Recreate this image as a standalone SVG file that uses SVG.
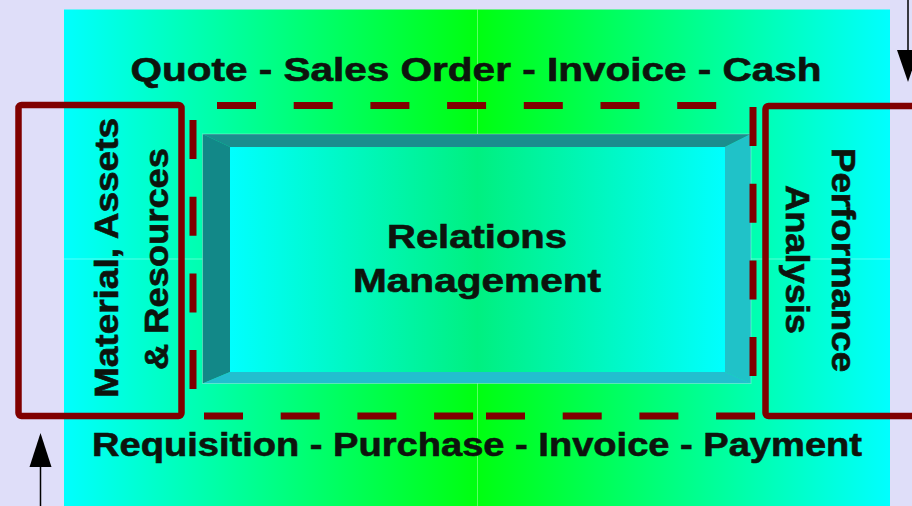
<svg xmlns="http://www.w3.org/2000/svg" width="912" height="506" viewBox="0 0 912 506">
  <defs>
    <linearGradient id="bgGrad" x1="0" y1="0" x2="1" y2="0">
      <stop offset="0" stop-color="#00FFFF"/>
      <stop offset="0.5" stop-color="#00FF10"/>
      <stop offset="1" stop-color="#00FFFF"/>
    </linearGradient>
    <linearGradient id="faceGrad" x1="0" y1="0" x2="1" y2="0">
      <stop offset="0" stop-color="#00FFFF"/>
      <stop offset="0.5" stop-color="#00F080"/>
      <stop offset="1" stop-color="#00FFFF"/>
    </linearGradient>
    <style>
      .lbl { font-family: "Liberation Sans", Arial, sans-serif; font-weight: bold; font-size: 33px; fill: #0d140d; stroke: #0d140d; stroke-width: 0.6; }
      .box { fill: none; stroke: #800000; stroke-width: 6.5; }
      .dash { fill: none; stroke: #800000; stroke-width: 7; stroke-dasharray: 39 37.7; }
      .arrowline { stroke: #000000; stroke-width: 1.5; fill: none; }
      .grid { stroke: #FFFFFF; stroke-opacity: 0.35; stroke-width: 1; }
    </style>
  </defs>

  <rect x="0" y="0" width="912" height="506" fill="#DFDEF9"/>

  <g id="background-panel">
    <rect x="64" y="9.5" width="826" height="497" fill="url(#bgGrad)"/>
    <line class="grid" x1="477.5" y1="9.5" x2="477.5" y2="506"/>
    <line class="grid" x1="64" y1="259" x2="890" y2="259"/>
  </g>

  <g id="quote-to-cash">
    <text class="lbl" x="476" y="81" text-anchor="middle" textLength="691" lengthAdjust="spacingAndGlyphs">Quote - Sales Order - Invoice - Cash</text>
  </g>

  <g id="requisition-to-payment">
    <text class="lbl" x="477" y="456" text-anchor="middle" textLength="770" lengthAdjust="spacingAndGlyphs">Requisition - Purchase - Invoice - Payment</text>
  </g>

  <g id="relations-management">
    <polygon points="202.5,134 751,134 725,147 230,147" fill="#1A8E8E"/>
    <polygon points="202.5,134 230,147 230,372 202.5,383.5" fill="#128888"/>
    <polygon points="751,134 751,383.5 725,372 725,147" fill="#20C2C8"/>
    <polygon points="202.5,383.5 751,383.5 725,372 230,372" fill="#22BFCF"/>
    <rect x="230" y="147" width="495" height="225" fill="url(#faceGrad)"/>
    <rect x="202.5" y="134" width="548.5" height="249.5" fill="none" stroke="#FFFFFF" stroke-opacity="0.3" stroke-width="1"/>
    <text class="lbl" x="477" y="248" text-anchor="middle" textLength="180" lengthAdjust="spacingAndGlyphs">Relations</text>
    <text class="lbl" x="477" y="292" text-anchor="middle" textLength="248" lengthAdjust="spacingAndGlyphs">Management</text>
  </g>

  <g id="dashed-boundary">
    <line class="dash" x1="217" y1="105.5" x2="753" y2="105.5"/>
    <line class="dash" x1="204" y1="416" x2="475" y2="416"/>
    <line class="dash" x1="486" y1="416" x2="757" y2="416"/>
    <line class="dash" x1="193" y1="120" x2="193" y2="390"/>
    <line class="dash" x1="753" y1="107" x2="753" y2="376"/>
  </g>

  <g id="material-assets-resources">
    <rect class="box" x="18.5" y="105" width="163" height="311" rx="3"/>
    <text class="lbl" transform="translate(118,258) rotate(-90)" x="0" y="0" text-anchor="middle" textLength="280" lengthAdjust="spacingAndGlyphs">Material, Assets</text>
    <text class="lbl" transform="translate(168,259) rotate(-90)" x="0" y="0" text-anchor="middle" textLength="222" lengthAdjust="spacingAndGlyphs">&amp; Resources</text>
  </g>

  <g id="performance-analysis">
    <rect class="box" x="765.5" y="106" width="200" height="310" rx="3"/>
    <text class="lbl" transform="translate(832,260) rotate(90)" x="0" y="0" text-anchor="middle" textLength="224" lengthAdjust="spacingAndGlyphs">Performance</text>
    <text class="lbl" transform="translate(786,259.5) rotate(90)" x="0" y="0" text-anchor="middle" textLength="149" lengthAdjust="spacingAndGlyphs">Analysis</text>
  </g>

  <g id="connectors">
    <line class="arrowline" x1="908" y1="0" x2="908" y2="52"/>
    <polygon points="897,50 919,50 908,82" fill="#000000"/>
    <line class="arrowline" x1="40.5" y1="506" x2="40.5" y2="465"/>
    <polygon points="29.5,467 51.5,467 40.5,433" fill="#000000"/>
  </g>
</svg>
